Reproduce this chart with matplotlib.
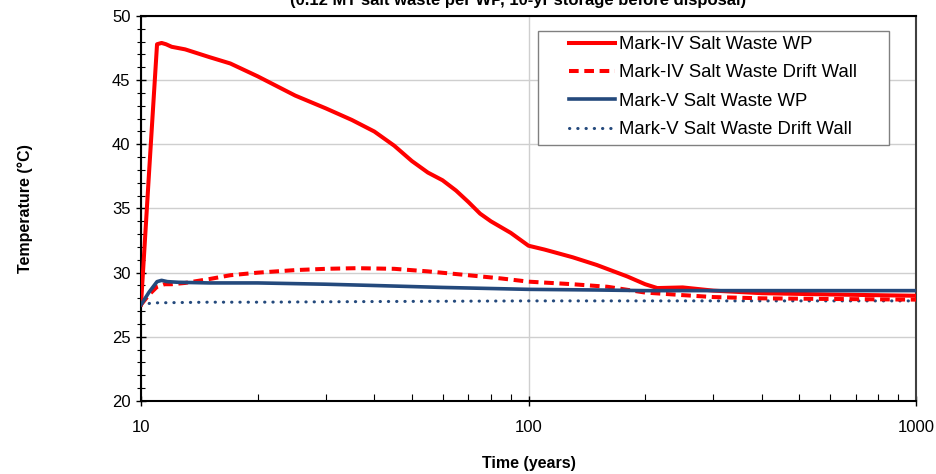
import numpy as np
import matplotlib.pyplot as plt
from matplotlib.patches import Rectangle

plt.rcParams['font.family'] = ['Liberation Sans', 'DejaVu Sans']

# 数据
t_iv_wp = [10, 10.5, 11.0, 11.3, 11.6, 12, 13, 15, 17, 20, 25, 30, 35, 40, 45, 50,
           55, 60, 65, 70, 75, 80, 90, 100, 110, 130, 150, 180, 200, 215, 250, 300,
           400, 600, 1000]
iv_wp = [27.5, 38.0, 47.8, 47.9, 47.8, 47.6, 47.4, 46.8, 46.3, 45.3, 43.8, 42.8,
         41.9, 41.0, 39.9, 38.7, 37.8, 37.2, 36.4, 35.5, 34.6, 34.0, 33.1, 32.1,
         31.8, 31.2, 30.6, 29.7, 29.1, 28.8, 28.85, 28.6, 28.4, 28.3, 28.2]

t_iv_dw = [10, 10.5, 11, 11.5, 12, 13, 15, 17, 20, 25, 30, 36, 45, 55, 70, 85,
           100, 130, 160, 200, 250, 300, 400, 600, 1000]
iv_dw = [27.5, 28.3, 28.9, 29.1, 29.1, 29.2, 29.5, 29.8, 30.0, 30.2, 30.3, 30.35,
         30.3, 30.1, 29.8, 29.55, 29.3, 29.1, 28.9, 28.45, 28.25, 28.1, 28.0,
         27.95, 27.9]

t_v_wp = [10, 10.5, 11, 11.3, 11.7, 12.5, 15, 20, 30, 40, 60, 100, 150, 200, 300,
          500, 1000]
v_wp = [27.5, 28.5, 29.3, 29.4, 29.3, 29.25, 29.2, 29.2, 29.1, 29.0, 28.85, 28.7,
        28.65, 28.6, 28.6, 28.6, 28.6]

t_v_dw = [10, 10.5, 11, 15, 20, 40, 100, 200, 500, 1000]
v_dw = [27.5, 27.6, 27.65, 27.7, 27.7, 27.75, 27.8, 27.8, 27.8, 27.8]

labels = ['Mark-IV Salt Waste WP', 'Mark-IV Salt Waste Drift Wall',
          'Mark-V Salt Waste WP', 'Mark-V Salt Waste Drift Wall']
title = '(0.12 MT salt waste per WP, 10-yr storage before disposal)'

red = '#ff0000'
blue = '#24497c'

fig = plt.figure(figsize=(9.36, 4.74), dpi=100)
ax = fig.add_axes([141 / 936, 73 / 474, 775 / 936, 385 / 474])

ax.plot(t_iv_wp, iv_wp, color=red, lw=2.9, label=labels[0], zorder=4)
ax.plot(t_iv_dw, iv_dw, color=red, lw=2.9, ls=(0, (2.4, 1.4)), label=labels[1], zorder=3)
ax.plot(t_v_wp, v_wp, color=blue, lw=2.6, label=labels[2], zorder=5)
ax.plot(t_v_dw, v_dw, color=blue, lw=2.2, ls=(0, (0.1, 2.6)),
        dash_capstyle='round', label=labels[3], zorder=2)

ax.set_xscale('log')
ax.set_xlim(10, 1000)
ax.set_ylim(20, 50)
ax.set_yticks(np.arange(20, 51, 5))
ax.set_yticks(np.arange(20, 51, 1), minor=True)
ax.set_xticks([10, 100, 1000])
ax.set_xticklabels(['10', '100', '1000'])
ax.grid(True, which='major', color='#cfcfcf', lw=1)

ax.tick_params(axis='both', which='major', labelsize=12, direction='inout',
               length=7, width=1, color='black', pad=4)
ax.tick_params(axis='y', which='minor', direction='inout', length=6, width=0.8)
ax.tick_params(axis='x', which='minor', direction='in', length=5, width=0.8)
ax.tick_params(axis='x', which='major', pad=10)
for side in ['left', 'bottom', 'top']:
    ax.spines[side].set_linewidth(1.5)
    ax.spines[side].set_color('black')
ax.spines['right'].set_linewidth(1.5)
ax.spines['right'].set_color('#404040')

ax.set_xlabel('Time (years)', fontsize=11.5, fontweight='bold', labelpad=15)
ax.set_ylabel('Temperature (°C)', fontsize=11.5, fontweight='bold', labelpad=57)

fig.text(0.553, 1 - 5 / 474, title, ha='center', va='baseline',
         fontsize=12, fontweight='bold')

# 图例框
ax.add_patch(Rectangle(((538 - 141) / 775, (401 - 145) / 385), 351 / 775, 114 / 385,
                       transform=ax.transAxes, facecolor='white',
                       edgecolor='#808080', lw=1, zorder=8))
leg = ax.legend(loc='upper left', bbox_to_anchor=((569 - 141) / 775, 1 - 20 / 385),
                frameon=False, fontsize=13.3, handlelength=2.5,
                handletextpad=0.2, labelspacing=0.62, borderaxespad=0,
                borderpad=0)
leg.set_zorder(10)

fig.savefig('out.png', dpi=100)
